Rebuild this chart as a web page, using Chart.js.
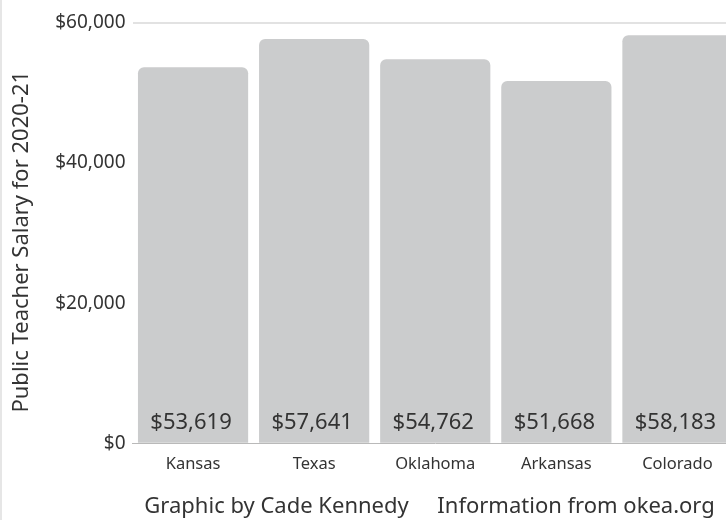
<!DOCTYPE html>
<html lang="en">
<head>
    <meta charset="UTF-8">
    <title>Teacher Salary</title>
    <script src="https://cdn.jsdelivr.net/npm/chart.js"></script>
    <style>
        body { margin: 0; overflow: hidden; background: #fff; }
        #wrap { position: absolute; left: 0; top: 0; width: 745px; height: 520px; }
        #edge { position: absolute; left: 0; top: 0; width: 2px; height: 520px; background: #e6e6e6; z-index: 2; }
    </style>
</head>
<body>
    <div id="edge"></div>
    <div id="wrap"><canvas id="salaryChart"></canvas></div>
    <script>
        const states = ['Kansas', 'Texas', 'Oklahoma', 'Arkansas', 'Colorado'];
        const salaries = [53619, 57641, 54762, 51668, 58183];
        const yTicks = [0, 20000, 40000, 60000];

        const fmt = v => '$' + v.toLocaleString('en-US');

        // value labels sitting at the bottom of each bar
        const barLabels = {
            id: 'barLabels',
            afterDatasetsDraw(chart) {
                const ctx = chart.ctx;
                const meta = chart.getDatasetMeta(0);
                ctx.save();
                ctx.font = '22px "Noto Sans"';
                ctx.fillStyle = '#333';
                ctx.textAlign = 'center';
                ctx.textBaseline = 'alphabetic';
                meta.data.forEach((bar, i) => {
                    ctx.fillText(fmt(salaries[i]), bar.x - 2, bar.base - 14);
                });
                ctx.restore();
            }
        };

        const ctx = document.getElementById('salaryChart').getContext('2d');
        new Chart(ctx, {
            type: 'bar',
            data: {
                labels: states,
                datasets: [{
                    data: salaries,
                    backgroundColor: '#cbcccd',
                    borderRadius: { topLeft: 6, topRight: 6 },
                    borderSkipped: 'bottom',
                    barPercentage: 0.91,
                    categoryPercentage: 1
                }]
            },
            options: {
                responsive: true,
                maintainAspectRatio: false,
                animation: false,
                layout: { padding: { left: 0, top: 22.5, right: 7, bottom: 0 } },
                plugins: {
                    legend: { display: false },
                    tooltip: { enabled: false }
                },
                scales: {
                    x: {
                        grid: { display: false, drawTicks: false },
                        border: { display: true, color: '#b9b9b9', width: 1 },
                        ticks: { color: '#333', font: { family: 'Noto Sans', size: 16.5 }, padding: 11 },
                        title: {
                            display: true,
                            text: 'Graphic by Cade Kennedy     Information from okea.org  ',
                            color: '#333',
                            font: { family: 'Noto Sans', size: 22 },
                            padding: { top: 8, bottom: 0 }
                        }
                    },
                    y: {
                        min: 0,
                        max: 60000,
                        afterBuildTicks: scale => { scale.ticks = yTicks.map(v => ({ value: v })); },
                        afterFit: scale => { scale.width = 132.5; },
                        border: { display: false },
                        grid: {
                            color: c => c.tick && c.tick.value === 60000 ? '#e2e2e2' : 'transparent',
                            lineWidth: 2,
                            drawTicks: false
                        },
                        ticks: {
                            color: '#333',
                            font: { family: 'Noto Sans', size: 19 },
                            padding: 7,
                            callback: v => fmt(v)
                        },
                        title: {
                            display: true,
                            text: 'Public Teacher Salary for 2020-21   ',
                            color: '#333',
                            font: { family: 'Noto Sans', size: 22 },
                            padding: { top: 9, bottom: 4 }
                        }
                    }
                }
            },
            plugins: [barLabels]
        });
    </script>
</body>
</html>
